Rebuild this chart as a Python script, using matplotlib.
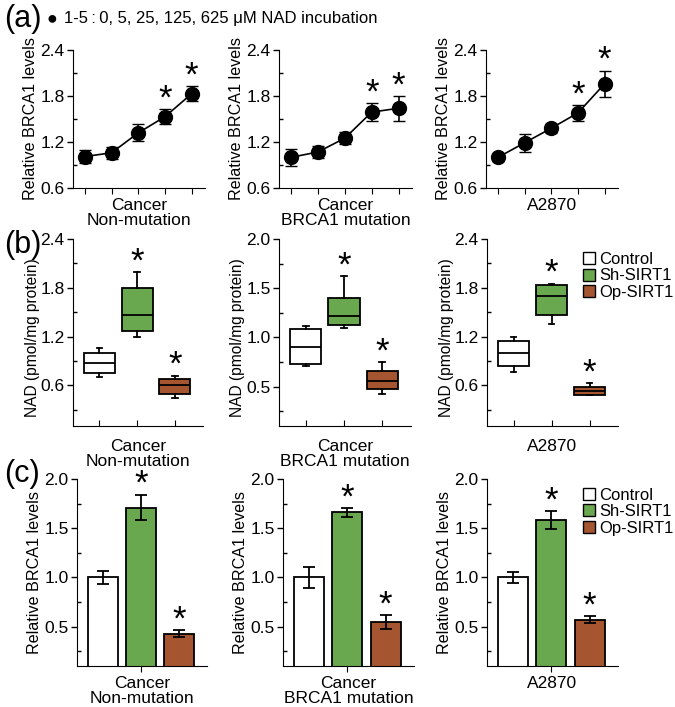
import numpy as np
import matplotlib
matplotlib.use('Agg')
import matplotlib.pyplot as plt
from matplotlib.lines import Line2D
from matplotlib.ticker import MultipleLocator, FormatStrFormatter

plt.rcParams['font.family'] = ['Liberation Sans', 'DejaVu Sans']
plt.rcParams['font.size'] = 12

# (a) NAD incubation dose series, doses 1-5
doses = [1, 2, 3, 4, 5]
a_names = ['Cancer\nNon-mutation', 'Cancer\nBRCA1 mutation', 'A2870']
a_mean = [[1.01, 1.06, 1.32, 1.53, 1.83],
          [1.00, 1.07, 1.25, 1.59, 1.64],
          [1.00, 1.19, 1.38, 1.58, 1.96]]
a_err = [[0.09, 0.08, 0.11, 0.10, 0.10],
         [0.11, 0.08, 0.08, 0.12, 0.16],
         [0.05, 0.12, 0.06, 0.10, 0.17]]
a_star = [4, 5]

# (b) NAD box plots: Control, Sh-SIRT1, Op-SIRT1
groups = ['Control', 'Sh-SIRT1', 'Op-SIRT1']
colors = ['white', '#6aa84f', '#a5552f']
b_med = [[0.88, 1.47, 0.60], [0.90, 1.22, 0.56], [1.00, 1.70, 0.53]]
b_q1 = [[0.75, 1.27, 0.49], [0.73, 1.13, 0.48], [0.84, 1.47, 0.48]]
b_q3 = [[1.00, 1.80, 0.68], [1.09, 1.40, 0.66], [1.14, 1.84, 0.58]]
b_lo = [[0.70, 1.19, 0.45], [0.71, 1.10, 0.43], [0.77, 1.36, 0.48]]
b_hi = [[1.06, 1.99, 0.72], [1.12, 1.62, 0.75], [1.20, 1.85, 0.63]]
b_ylim = [(0.1, 2.4), (0.1, 2.0), (0.1, 2.4)]
b_major = [0.6, 0.5, 0.6]

# (c) BRCA1 bars
c_mean = [[1.00, 1.71, 0.43], [1.00, 1.66, 0.545], [1.00, 1.58, 0.57]]
c_err = [[0.07, 0.13, 0.035], [0.11, 0.045, 0.07], [0.055, 0.09, 0.035]]

W, H = 675, 707
fig = plt.figure(figsize=(W / 100, H / 100), dpi=100)

TICK = 12.5
XLAB = 12.5
YLAB = 11.6


def box(x0, x1, y0, y1):
    return fig.add_axes([x0 / W, 1 - y1 / H, (x1 - x0) / W, (y1 - y0) / H])


def style(ax):
    for s in ['top', 'right']:
        ax.spines[s].set_visible(False)
    ax.tick_params(axis='y', which='major', direction='out', length=4, width=1,
                   labelsize=TICK, pad=2)
    ax.tick_params(axis='y', which='minor', direction='in', length=3, width=1)
    ax.yaxis.set_major_formatter(FormatStrFormatter('%.1f'))


def star(ax, x, y):
    # asterisk sitting just above the top of an error bar / whisker
    ax.annotate('*', xy=(x, y), xytext=(0, -4.5), textcoords='offset points',
                ha='center', va='bottom', fontsize=25)


a_x = [(73, 205), (279, 412), (486, 618)]
b_x = [(73, 203), (279, 411), (487, 618)]
c_x = [(77, 207), (283, 414), (487, 618)]

# row a
for i in range(3):
    ax = box(a_x[i][0], a_x[i][1], 50, 188)
    style(ax)
    ax.errorbar(doses, a_mean[i], yerr=a_err[i], fmt='o-', color='black',
                markersize=10, capsize=4, elinewidth=1.2, linewidth=1.2)
    for d in a_star:
        star(ax, d, a_mean[i][d - 1] + a_err[i][d - 1])
    ax.set_xlim(0.55, 5.5)
    ax.set_ylim(0.6, 2.4)
    ax.yaxis.set_major_locator(MultipleLocator(0.6))
    ax.yaxis.set_minor_locator(MultipleLocator(0.3))
    ax.set_xticks(doses)
    ax.set_xticklabels([])
    ax.tick_params(axis='x', direction='out', length=4)
    ax.set_xlabel(a_names[i], fontsize=XLAB, labelpad=0, linespacing=1.0)
    ax.set_ylabel('Relative BRCA1 levels', fontsize=YLAB, labelpad=2)

fig.text(4 / W, 1 - 19 / H, '(a)', fontsize=22, va='center')
fig.text(47 / W, 1 - 19 / H, '\u25cf', fontsize=13, va='center')
fig.text(64 / W, 1 - 19 / H, '1-5\u2009:\u20090, 5, 25, 125, 625 \u03bcM NAD incubation',
         fontsize=12, va='center', family=['Liberation Sans', 'DejaVu Sans'])

# row b
pos = [1, 2, 3]
for i in range(3):
    ax = box(b_x[i][0], b_x[i][1], 239, 426)
    style(ax)
    stats = []
    for j in range(3):
        stats.append(dict(med=b_med[i][j], q1=b_q1[i][j], q3=b_q3[i][j],
                          whislo=b_lo[i][j], whishi=b_hi[i][j], fliers=[]))
    bp = ax.bxp(stats, positions=pos, widths=0.82, patch_artist=True,
                showfliers=False, capwidths=0.15,
                medianprops=dict(color='black', linewidth=1.3),
                whiskerprops=dict(linewidth=1.3), capprops=dict(linewidth=1.3),
                boxprops=dict(linewidth=1.3))
    for patch, c in zip(bp['boxes'], colors):
        patch.set_facecolor(c)
        patch.set_edgecolor('black')
    star(ax, 2, b_hi[i][1])
    star(ax, 3, b_hi[i][2])
    ax.set_xlim(0.3, 3.75)
    ax.set_ylim(*b_ylim[i])
    ax.yaxis.set_major_locator(MultipleLocator(b_major[i]))
    ax.yaxis.set_minor_locator(MultipleLocator(b_major[i] / 2))
    ax.set_xticks(pos)
    ax.set_xticklabels([])
    ax.tick_params(axis='x', direction='in', length=4)
    ax.set_xlabel(a_names[i], fontsize=XLAB, labelpad=6, linespacing=1.0)
    ax.set_ylabel('NAD (pmol/mg protein)', fontsize=11.2)
    ax.yaxis.set_label_coords(-0.255, 0.47)

fig.text(4 / W, 1 - 245 / H, '(b)', fontsize=22, va='center')

handles = [Line2D([], [], marker='s', linestyle='none', markersize=8.5,
                  markerfacecolor=c, markeredgecolor='black', markeredgewidth=1)
           for c in colors]
for ytop in [252, 488]:
    fig.legend(handles, groups, loc='upper left', bbox_to_anchor=(580 / W, 1 - ytop / H),
               frameon=False, fontsize=12, handletextpad=0.05, labelspacing=0.08,
               borderpad=0, borderaxespad=0, handlelength=1.1)

# row c
for i in range(3):
    ax = box(c_x[i][0], c_x[i][1], 479, 666)
    style(ax)
    ax.bar(pos, c_mean[i], width=0.78, color=colors, edgecolor='black', linewidth=1.3,
           yerr=c_err[i], error_kw=dict(capsize=4, elinewidth=1.3, capthick=1.3, ecolor='black'))
    for j in [1, 2]:
        star(ax, pos[j], c_mean[i][j] + c_err[i][j])
    ax.set_xlim(0.32, 3.74)
    ax.set_ylim(0.1, 2.0)
    ax.yaxis.set_major_locator(MultipleLocator(0.5))
    ax.yaxis.set_minor_locator(MultipleLocator(0.25))
    ax.set_xticks([2])
    ax.set_xticklabels([])
    ax.tick_params(axis='x', direction='out', length=4)
    ax.set_xlabel(a_names[i], fontsize=XLAB, labelpad=0, linespacing=0.95)
    ax.set_ylabel('Relative BRCA1 levels', fontsize=YLAB, labelpad=2)

fig.text(4 / W, 1 - 474 / H, '(c)', fontsize=22, va='center')

fig.savefig('out.png', dpi=100)
